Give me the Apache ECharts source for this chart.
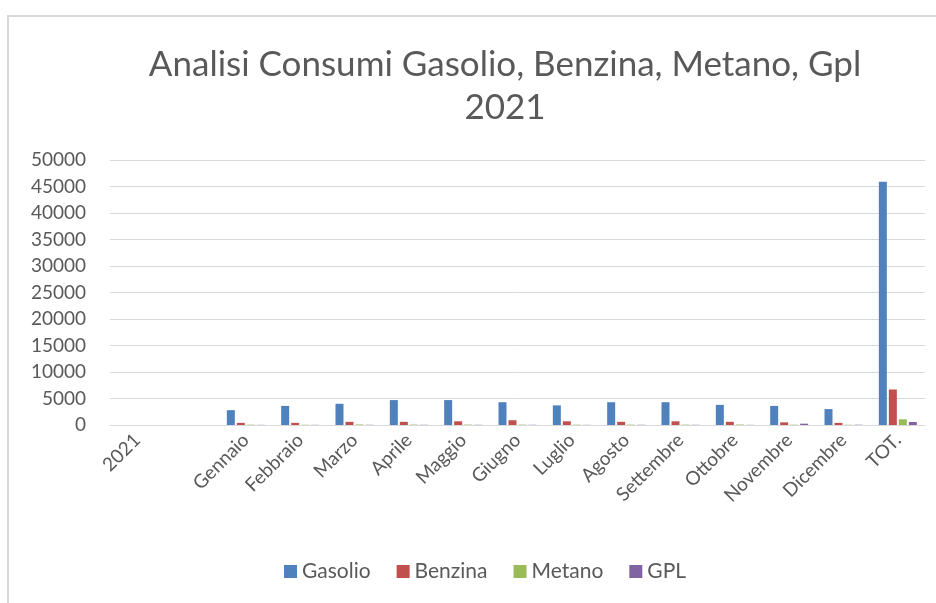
<!DOCTYPE html>
<html>
<head>
<meta charset="utf-8">
<script src="https://cdn.jsdelivr.net/npm/echarts@6/dist/echarts.min.js"></script>
<style>
  html, body { margin: 0; padding: 0; background: #fff; }
  #chart { width: 936px; height: 603px; }
</style>
</head>
<body>
<div id="chart"></div>
<script>
const categories = ["2021", "", "Gennaio", "Febbraio", "Marzo", "Aprile", "Maggio", "Giugno",
  "Luglio", "Agosto", "Settembre", "Ottobre", "Novembre", "Dicembre", "TOT."];

const gasolio = [0, 0, 2800, 3600, 4000, 4700, 4700, 4300, 3700, 4300, 4300, 3800, 3600, 3000, 45900];
const benzina = [0, 0, 400, 400, 600, 600, 700, 900, 700, 600, 700, 600, 500, 400, 6700];
const metano = [0, 0, 60, 50, 100, 80, 80, 70, 60, 70, 70, 90, 60, 50, 1080];
const gpl = [0, 0, 30, 30, 40, 40, 40, 40, 30, 40, 40, 30, 250, 50, 570];

const seriesNames = ["Gasolio", "Benzina", "Metano", "GPL"];
const colors = ["#4f81bd", "#c0504d", "#9bbb59", "#8064a2"];

const font = "Lato, 'Open Sans', sans-serif";
const textColor = "#595959";

const makeBar = (name, data) => ({
  name: name,
  type: "bar",
  data: data,
  barWidth: 8,
  barGap: "25%",
});

const chart = echarts.init(document.getElementById("chart"));

chart.setOption({
  color: colors,
  animation: false,
  title: {
    text: "Analisi Consumi Gasolio, Benzina, Metano, Gpl\n2021",
    left: 500,
    textAlign: "center",
    top: 38,
    textStyle: {
      fontFamily: font,
      fontSize: 35,
      fontWeight: "normal",
      color: textColor,
      lineHeight: 43,
    },
  },
  graphic: [
    {
      type: "polyline",
      shape: { points: [[8, 603], [8, 16], [936, 16]] },
      style: { stroke: "#d9d9d9", lineWidth: 2, fill: null },
      silent: true,
    },
  ],
  legend: {
    data: seriesNames,
    bottom: 16,
    left: 279,
    itemWidth: 13,
    itemHeight: 13,
    itemGap: 26,
    icon: "rect",
    textStyle: { fontFamily: font, fontSize: 21, color: textColor },
  },
  grid: {
    left: 110,
    right: 11,
    top: 160,
    bottom: 178,
  },
  xAxis: {
    type: "category",
    data: categories,
    axisLine: { lineStyle: { color: "#d9d9d9", width: 1 } },
    axisTick: { show: false },
    axisLabel: {
      interval: 0,
      rotate: 45,
      margin: 12,
      fontFamily: font,
      fontSize: 19,
      color: textColor,
    },
  },
  yAxis: {
    type: "value",
    min: 0,
    max: 50000,
    interval: 5000,
    axisLine: { show: false },
    axisTick: { show: false },
    splitLine: { lineStyle: { color: "#d9d9d9", width: 1 } },
    axisLabel: {
      margin: 24,
      fontFamily: font,
      fontSize: 19,
      color: textColor,
      formatter: (v) => String(v),
    },
  },
  series: [
    makeBar("Gasolio", gasolio),
    makeBar("Benzina", benzina),
    makeBar("Metano", metano),
    makeBar("GPL", gpl),
  ],
});
</script>
</body>
</html>
